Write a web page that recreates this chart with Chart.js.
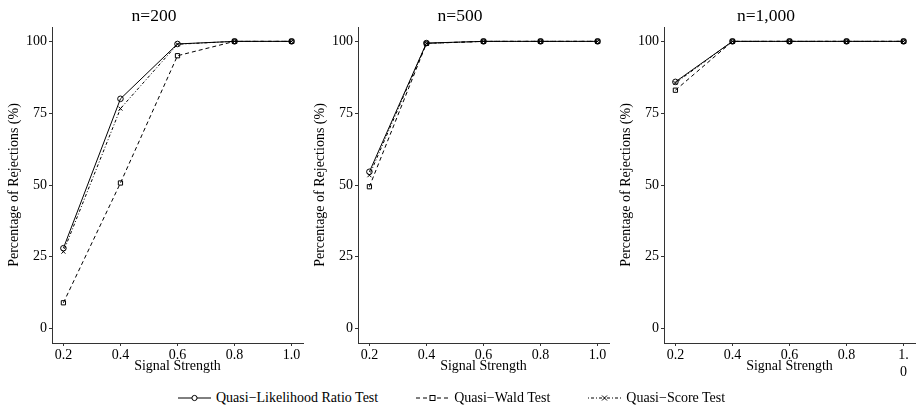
<!DOCTYPE html>
<html>
<head>
<meta charset="utf-8">
<script src="https://cdn.jsdelivr.net/npm/chart.js@4.4.1/dist/chart.umd.min.js"></script>
<style>
  html, body { margin: 0; padding: 0; background: #fff; }
  body { width: 922px; height: 406px; position: relative; overflow: hidden; font-family: "Liberation Serif", "DejaVu Serif", serif; }
  canvas.panel { position: absolute; top: 0; }
  #legend { position: absolute; top: 390px; left: 178px; display: flex; align-items: center; font-size: 14px; color: #000; white-space: nowrap; }
  .item { display: flex; align-items: center; margin-right: 38px; }
  .item svg { margin-right: 5px; }
</style>
</head>
<body>
<canvas class="panel" id="c1" width="308" height="376" style="left:0px"></canvas>
<canvas class="panel" id="c2" width="308" height="376" style="left:306px"></canvas>
<canvas class="panel" id="c3" width="308" height="376" style="left:612px"></canvas>
<div id="legend">
  <div class="item"><svg width="33" height="14"><line x1="0" y1="7" x2="33" y2="7" stroke="#000" stroke-width="1"/><circle cx="16.5" cy="7" r="2.6" fill="#fff" stroke="#000" stroke-width="1"/></svg><span>Quasi−Likelihood Ratio Test</span></div>
  <div class="item"><svg width="33" height="14"><line x1="0" y1="7" x2="33" y2="7" stroke="#000" stroke-width="1" stroke-dasharray="4,3"/><rect x="14" y="4.5" width="5" height="5" fill="#fff" stroke="#000" stroke-width="1"/></svg><span>Quasi−Wald Test</span></div>
  <div class="item"><svg width="33" height="14"><line x1="0" y1="7" x2="33" y2="7" stroke="#000" stroke-width="1" stroke-dasharray="1,2,3,2"/><path d="M14 4.5 L19 9.5 M19 4.5 L14 9.5" stroke="#000" stroke-width="1"/></svg><span>Quasi−Score Test</span></div>
</div>
<script>
// ---- data ----
const signalStrength = [0.2, 0.4, 0.6, 0.8, 1.0];
const panelTitles = ["n=200", "n=500", "n=1,000"];
const seriesNames = ["Quasi−Likelihood Ratio Test", "Quasi−Wald Test", "Quasi−Score Test"];

const lrt200   = [28, 80, 99.1, 100, 100];
const wald200  = [9, 50.7, 95, 100, 100];
const score200 = [26.8, 76.6, 99, 100, 100];

const lrt500   = [54.6, 99.4, 100, 100, 100];
const wald500  = [49.4, 99.3, 100, 100, 100];
const score500 = [53.4, 99.3, 100, 100, 100];

const lrt1000   = [85.9, 100, 100, 100, 100];
const wald1000  = [83, 100, 100, 100, 100];
const score1000 = [85.5, 100, 100, 100, 100];

const yTicks = [0, 25, 50, 75, 100];
const xTickLabels = ["0.2", "0.4", "0.6", "0.8", "1.0"];
const xTickLabelsLast = ["0.2", "0.4", "0.6", "0.8", ["1.", "0"]];

const panels = [
  { id: "c1", title: panelTitles[0], series: [lrt200, wald200, score200], xLabels: xTickLabels },
  { id: "c2", title: panelTitles[1], series: [lrt500, wald500, score500], xLabels: xTickLabels },
  { id: "c3", title: panelTitles[2], series: [lrt1000, wald1000, score1000], xLabels: xTickLabelsLast }
];

// ---- styles ----
const styles = [
  { pointStyle: "circle", borderDash: [] },
  { pointStyle: "rect", borderDash: [4, 3] },
  { pointStyle: "crossRot", borderDash: [1, 2, 3, 2] }
];
const FONT = "'Liberation Serif', 'DejaVu Serif', serif";
const AXIS = "#333";

panels.forEach(p => {
  const datasets = p.series.map((vals, i) => ({
    label: seriesNames[i],
    data: signalStrength.map((x, j) => ({ x: x, y: vals[j] })),
    borderColor: "#000",
    backgroundColor: "rgba(255,255,255,0)",
    borderWidth: 1,
    borderDash: styles[i].borderDash,
    pointStyle: styles[i].pointStyle,
    pointRadius: styles[i].pointStyle === "rect" ? 3 : 2.8,
    pointBorderColor: "#000",
    pointBackgroundColor: "rgba(255,255,255,0)",
    pointBorderWidth: 1,
    tension: 0,
    fill: false
  }));
  new Chart(document.getElementById(p.id), {
    type: "line",
    data: { datasets },
    options: {
      responsive: false,
      animation: false,
      devicePixelRatio: 1,
      layout: { padding: { left: 0, right: 0, top: 0, bottom: 0 } },
      plugins: {
        legend: { display: false },
        tooltip: { enabled: false },
        title: {
          display: true,
          text: p.title,
          color: "#000",
          font: { family: FONT, size: 17.5, weight: "normal" },
          padding: { top: 6, bottom: 0 }
        }
      },
      scales: {
        x: {
          type: "linear",
          min: 0.16,
          max: 1.04,
          afterBuildTicks: s => { s.ticks = signalStrength.map(v => ({ value: v })); },
          afterFit: s => { s.height = 33; },
          ticks: {
            autoSkip: false,
            maxRotation: 0,
            minRotation: 0,
            padding: 1,
            color: "#000",
            font: { family: FONT, size: 14 },
            callback: (v, idx) => p.xLabels[idx]
          },
          grid: { display: true, drawOnChartArea: false, drawTicks: true, tickLength: 3, color: AXIS },
          border: { display: true, color: AXIS, width: 1 },
          title: {
            display: true,
            text: "Signal Strength",
            color: "#000",
            font: { family: FONT, size: 14 },
            padding: { top: 0, bottom: 1 }
          }
        },
        y: {
          min: -5,
          max: 105,
          afterBuildTicks: s => { s.ticks = yTicks.map(v => ({ value: v })); },
          afterFit: s => { s.width = 52; },
          ticks: {
            padding: 2,
            color: "#000",
            font: { family: FONT, size: 14 },
            callback: v => String(v)
          },
          grid: { display: true, drawOnChartArea: false, drawTicks: true, tickLength: 3, color: AXIS },
          border: { display: true, color: AXIS, width: 1 },
          title: {
            display: true,
            text: "Percentage of Rejections (%)",
            color: "#000",
            font: { family: FONT, size: 14 },
            padding: { top: 6, bottom: 0 }
          }
        }
      }
    }
  });
});
</script>
</body>
</html>
